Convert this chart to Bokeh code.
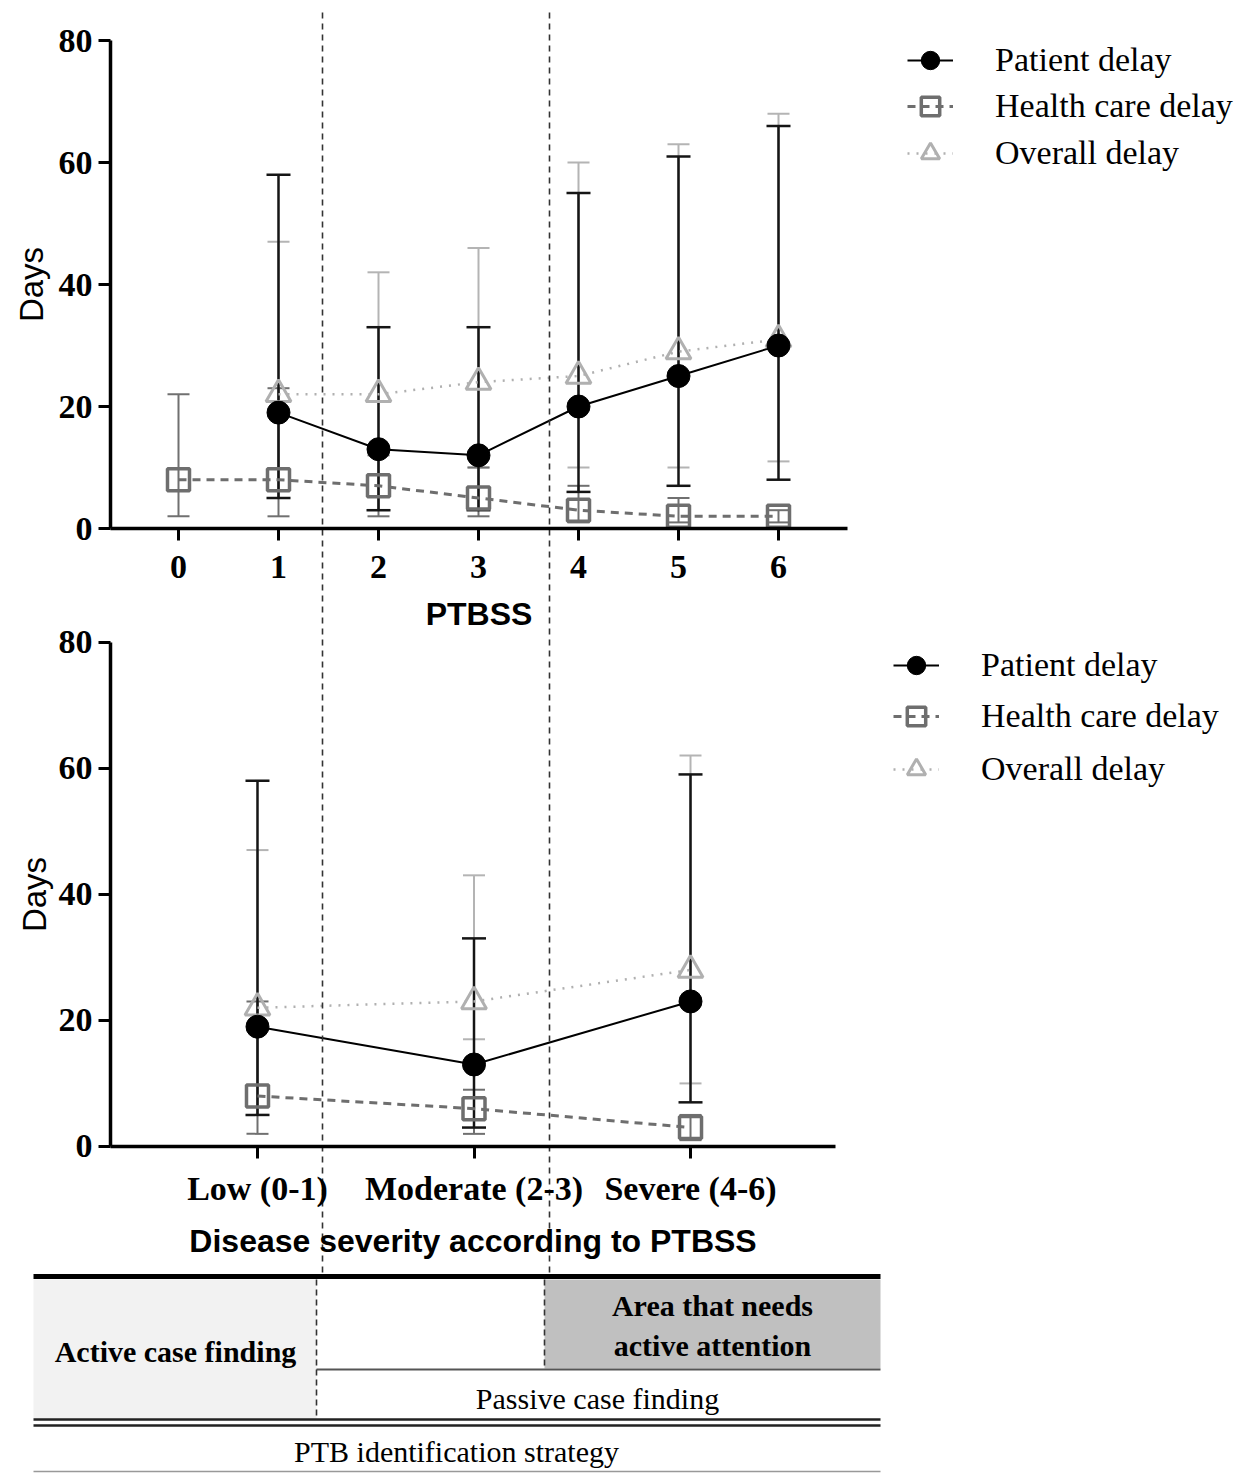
import math
from bokeh.plotting import figure
from bokeh.models import (Range1d, FixedTicker, Whisker, TeeHead, LinearAxis,
                          ColumnDataSource, Legend, LegendItem)
from bokeh.embed import file_html
from bokeh.resources import INLINE
from bokeh.core.properties import value

NaN = float("nan")

# ---------------- data: delay by PTBSS score (top panel) ----------------
ptbss = [0, 1, 2, 3, 4, 5, 6]
patient_mid = [NaN, 19, 13, 12, 20, 25, 30]
patient_lo = [NaN, 5, 3, 3, 6, 7, 8]
patient_hi = [NaN, 58, 33, 33, 55, 61, 66]
health_mid = [8, 8, 7, 5, 3, 2, 2]
health_lo = [2, 2, 2, 2, 1, 1, 1]
health_hi = [22, 23, 12, 10, 7, 5, 3]
overall_mid = [NaN, 22, 22, 24, 25, 29, 31]
overall_lo = [NaN, 5, 3, 10, 10, 10, 11]
overall_hi = [NaN, 47, 42, 46, 60, 63, 68]

# ---------------- data: delay by severity group (bottom panel) ----------------
severity = ["Low (0-1)", "Moderate (2-3)", "Severe (4-6)"]
sev_patient_mid = [19, 13, 23]
sev_patient_lo = [5, 3, 7]
sev_patient_hi = [58, 33, 59]
sev_health_mid = [8, 6, 3]
sev_health_lo = [2, 2, 1]
sev_health_hi = [23, 9, 5]
sev_overall_mid = [22, 23, 28]
sev_overall_lo = [5, 17, 10]
sev_overall_hi = [47, 43, 62]

y_ticks = [0, 20, 40, 60, 80]
series_names = ["Patient delay", "Health care delay", "Overall delay"]

# table labels
t_active = "Active case finding"
t_area = "Area that needs\nactive attention"
t_passive = "Passive case finding"
t_strategy = "PTB identification strategy"

SERIF = "Liberation Serif"
SANS = "Liberation Sans"

W, H = 1246, 1473

STY = {
    "Patient delay": dict(color="#000000", lw=2, dash="solid", marker="circle",
                          msize=23, fill="#000000", mlw=1, wcol="#151515", wlw=2.5, head=24),
    "Health care delay": dict(color="#6e6e6e", lw=3, dash="8 6", marker="square",
                              msize=22, fill=None, mlw=3.5, wcol="#707070", wlw=2, head=22),
    "Overall delay": dict(color="#b0b0b0", lw=2.5, dash="2 7", marker="triangle",
                          msize=25, fill=None, mlw=3, wcol="#b4b4b4", wlw=2, head=22),
}


def finite(xs, *cols):
    keep = [i for i in range(len(xs)) if all(not math.isnan(float(c[i])) for c in cols)]
    return [xs[i] for i in keep], [[c[i] for i in keep] for c in cols]


# One canvas for the whole page; each panel has its own pair of ranges.
p = figure(width=W, height=H, output_backend="svg", toolbar_location=None,
           x_range=Range1d(-1.78, 10.68), y_range=Range1d(-154.92, 86.56),
           x_axis_location=None, y_axis_location=None,
           min_border_left=0, min_border_right=0, min_border_top=0, min_border_bottom=0)
p.extra_x_ranges = {"sev": Range1d(-1.187, 4.568), "page": Range1d(0, W)}
p.extra_y_ranges = {"bot": Range1d(-51.86, 181.73), "page": Range1d(H, 0)}
p.outline_line_color = None
p.grid.visible = False


def make_axes(xr, yr, xticks, xlabel, xbounds, yloc, overrides=None,
              tick_standoff=8, label_standoff=10, ylabel_standoff=6):
    xa = LinearAxis(x_range_name=xr, y_range_name=yr, fixed_location=0, bounds=xbounds,
                    ticker=FixedTicker(ticks=xticks), axis_label=xlabel)
    if overrides:
        xa.major_label_overrides = overrides
    xa.axis_label_text_font = SANS
    xa.axis_label_text_font_style = "bold"
    xa.axis_label_text_font_size = "32px"
    xa.axis_label_text_color = "#000000"
    xa.axis_label_standoff = label_standoff
    xa.major_label_text_font = SERIF
    xa.major_label_text_font_style = "bold"
    xa.major_label_text_font_size = "34px"
    xa.major_label_text_color = "#000000"
    xa.major_label_standoff = tick_standoff
    xa.axis_line_width = 3.5
    xa.axis_line_color = "#000000"
    xa.major_tick_line_width = 3
    xa.major_tick_line_color = "#000000"
    xa.major_tick_out = 12
    xa.major_tick_in = 0
    xa.minor_tick_line_color = None
    p.add_layout(xa, "below")

    ya = LinearAxis(x_range_name=xr, y_range_name=yr, fixed_location=yloc, bounds=(0, 80),
                    ticker=FixedTicker(ticks=y_ticks), axis_label="Days")
    ya.axis_label_text_font = SANS
    ya.axis_label_text_font_style = "normal"
    ya.axis_label_text_font_size = "33px"
    ya.axis_label_text_color = "#000000"
    ya.axis_label_standoff = ylabel_standoff
    ya.major_label_text_font = SERIF
    ya.major_label_text_font_style = "bold"
    ya.major_label_text_font_size = "34px"
    ya.major_label_text_color = "#000000"
    ya.major_label_standoff = 6
    ya.axis_line_width = 3.5
    ya.axis_line_color = "#000000"
    ya.major_tick_line_width = 3
    ya.major_tick_line_color = "#000000"
    ya.major_tick_out = 12
    ya.major_tick_in = 0
    ya.minor_tick_line_color = None
    p.add_layout(ya, "left")


def add_series(xr, yr, xs, mids, los, his, legend_x, legend_ys):
    order = ["Overall delay", "Health care delay", "Patient delay"]
    rend = {}
    data = dict(zip(series_names, zip(mids, los, his)))
    for name in order:
        mid, lo, hi = data[name]
        s = STY[name]
        fx, (flo, fhi) = finite(xs, lo, hi)
        src = ColumnDataSource(dict(x=fx, lo=flo, hi=fhi))
        w = Whisker(base="x", lower="lo", upper="hi", source=src, dimension="height",
                    x_range_name=xr, y_range_name=yr,
                    line_color=s["wcol"], line_width=s["wlw"], level="underlay",
                    upper_head=TeeHead(size=s["head"], line_color=s["wcol"], line_width=s["wlw"]),
                    lower_head=TeeHead(size=s["head"], line_color=s["wcol"], line_width=s["wlw"]))
        p.add_layout(w)
    for name in order:
        mid, lo, hi = data[name]
        s = STY[name]
        lr = p.line(xs, mid, line_color=s["color"], line_width=s["lw"], line_dash=s["dash"],
                    x_range_name=xr, y_range_name=yr)
        rend[name] = [lr]
    for name in order:
        mid, lo, hi = data[name]
        s = STY[name]
        fx, (fm,) = finite(xs, mid)
        sr = p.scatter(fx, fm, marker=s["marker"], size=s["msize"],
                       line_color=s["color"] if s["fill"] is None else s["fill"],
                       line_width=s["mlw"], fill_color=s["fill"],
                       x_range_name=xr, y_range_name=yr)
        rend[name].append(sr)
    # one legend block per entry so the row pitch can follow the reference
    for name, ly in zip(series_names, legend_ys):
        leg = Legend(items=[LegendItem(label=name, renderers=rend[name])],
                     location=(legend_x, ly), padding=0, margin=0,
                     border_line_color=None, background_fill_alpha=0,
                     glyph_width=46, glyph_height=56, spacing=0,
                     label_standoff=42, label_text_font=SERIF,
                     label_text_font_size="34px", label_text_color="#000000")
        p.add_layout(leg)


# ---------------- top panel (by PTBSS score) ----------------
make_axes("default", "default", ptbss, "PTBSS", (-0.68, 6.69), -0.68,
          tick_standoff=15, label_standoff=15, ylabel_standoff=6)
add_series("default", "default", ptbss,
           [patient_mid, health_mid, overall_mid],
           [patient_lo, health_lo, overall_lo],
           [patient_hi, health_hi, overall_hi],
           907, [1385, 1339, 1292])

# ---------------- bottom panel (by severity group) ----------------
sev_x = list(range(len(severity)))
make_axes("sev", "bot", sev_x, "Disease severity according to PTBSS", (-0.679, 2.670), -0.679,
          overrides={i: lab for i, lab in enumerate(severity)},
          tick_standoff=12, label_standoff=12, ylabel_standoff=3)
add_series("sev", "bot", sev_x,
           [sev_patient_mid, sev_health_mid, sev_overall_mid],
           [sev_patient_lo, sev_health_lo, sev_overall_lo],
           [sev_patient_hi, sev_health_hi, sev_overall_hi],
           893, [780, 729, 676])

# ---------------- severity boundaries (dashed guides) ----------------
pg = dict(x_range_name="page", y_range_name="page")
p.segment(x0=[322, 549], y0=[12, 12], x1=[322, 549], y1=[1272, 1272],
          line_color="#333333", line_width=1.6, line_dash="6 5", **pg)

# ---------------- strategy table ----------------
p.quad(left=[33], right=[316], top=[1279], bottom=[1418], fill_color="#f2f2f2", line_color=None, **pg)
p.quad(left=[544], right=[880], top=[1279], bottom=[1368], fill_color="#c0c0c0", line_color=None, **pg)
p.segment(x0=[33], y0=[1276], x1=[880], y1=[1276], line_color="#000000", line_width=5, **pg)
p.segment(x0=[316], y0=[1369], x1=[880], y1=[1369], line_color="#555555", line_width=2, **pg)
p.segment(x0=[316, 544], y0=[1279, 1279], x1=[316, 544], y1=[1418, 1368],
          line_color="#333333", line_width=1.6, line_dash="6 4", **pg)
p.segment(x0=[33, 33], y0=[1419, 1425], x1=[880, 880], y1=[1419, 1425],
          line_color="#222222", line_width=2.5, **pg)
p.segment(x0=[33], y0=[1471], x1=[880], y1=[1471], line_color="#999999", line_width=1.5, **pg)
p.text(x=[175], y=[1351], text=[t_active], text_font=value(SERIF), text_font_style="bold",
       text_font_size="30px", text_align="center", text_baseline="middle", text_color="#000000", **pg)
p.text(x=[712], y=[1325], text=[t_area], text_font=value(SERIF), text_font_style="bold",
       text_font_size="30px", text_align="center", text_baseline="middle", text_color="#000000",
       text_line_height=1.2, **pg)
p.text(x=[597], y=[1398], text=[t_passive], text_font=value(SERIF),
       text_font_size="30px", text_align="center", text_baseline="middle", text_color="#000000", **pg)
p.text(x=[456], y=[1451], text=[t_strategy], text_font=value(SERIF),
       text_font_size="30px", text_align="center", text_baseline="middle", text_color="#000000", **pg)

open("out.html", "w").write(file_html(p, INLINE))
